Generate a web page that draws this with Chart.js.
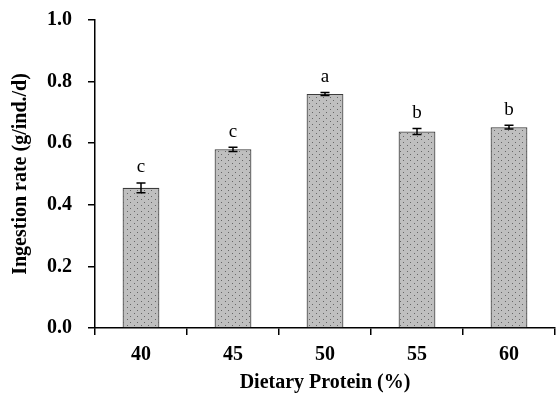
<!DOCTYPE html>
<html>
<head>
<meta charset="utf-8">
<script src="https://cdn.jsdelivr.net/npm/chart.js@4.4.0/dist/chart.umd.min.js"></script>
<style>
  html, body { margin: 0; padding: 0; background: #fff; }
  #wrap { width: 560px; height: 405px; }
</style>
</head>
<body>
<div id="wrap"><canvas id="c" width="560" height="405"></canvas></div>
<script>
// data
const categories = ['40', '45', '50', '55', '60'];
const ingestion = [0.455, 0.580, 0.760, 0.638, 0.652];
const errors = [0.016, 0.007, 0.005, 0.010, 0.006];
const letters = ['c', 'c', 'a', 'b', 'b'];
const yTicks = [0.0, 0.2, 0.4, 0.6, 0.8, 1.0];

const serif = '"Liberation Serif", "Times New Roman", serif';

// dotted grey fill like the original
function dotPattern() {
  const p = document.createElement('canvas');
  p.width = 7; p.height = 6;
  const g = p.getContext('2d');
  g.fillStyle = '#bfbfbf';
  g.fillRect(0, 0, 7, 6);
  g.fillStyle = '#666';
  g.fillRect(1, 1, 1, 1);
  g.fillRect(4, 4, 1, 1);
  return g.createPattern(p, 'repeat');
}
const ctx = document.getElementById('c').getContext('2d');

// error bars + significance letters
const extras = {
  id: 'extras',
  afterDatasetsDraw(chart) {
    const c = chart.ctx;
    const x = chart.scales.x, y = chart.scales.y;
    c.save();
    c.strokeStyle = '#000';
    c.lineWidth = 1.5;
    ingestion.forEach((v, i) => {
      const cx = x.getPixelForValue(i);
      const top = y.getPixelForValue(v + errors[i]);
      const bot = y.getPixelForValue(v - errors[i]);
      c.beginPath();
      c.moveTo(cx, top); c.lineTo(cx, bot);
      c.moveTo(cx - 4.5, top); c.lineTo(cx + 4.5, top);
      c.moveTo(cx - 4.5, bot); c.lineTo(cx + 4.5, bot);
      c.stroke();
      c.fillStyle = '#000';
      c.font = '19px ' + serif;
      c.textAlign = 'center';
      c.textBaseline = 'bottom';
      c.fillText(letters[i], cx, top - 6);
    });
    c.restore();
  }
};

new Chart(ctx, {
  type: 'bar',
  data: {
    labels: categories,
    datasets: [{
      data: ingestion,
      backgroundColor: dotPattern(),
      borderColor: '#3c3c3c',
      borderWidth: 1.2,
      borderSkipped: 'bottom',
      barPercentage: 0.4,
      categoryPercentage: 1.0
    }]
  },
  options: {
    responsive: false,
    animation: false,
    layout: { padding: { top: 20, right: 5, left: 0, bottom: 0 } },
    plugins: { legend: { display: false }, tooltip: { enabled: false } },
    scales: {
      x: {
        offset: true,
        grid: { offset: true, drawOnChartArea: false, drawTicks: true, tickLength: 7, color: '#000', lineWidth: 1.5 },
        border: { color: '#000', width: 1.5 },
        ticks: { color: '#000', font: { family: serif, size: 20, weight: 'bold' }, padding: 8 },
        title: { display: true, text: 'Dietary Protein (%)', color: '#000', font: { family: serif, size: 20, weight: 'bold' }, padding: { top: 4, bottom: 10 } },
        afterFit(s) { s.height = 77; s.paddingLeft = 0; s.paddingRight = 0; }
      },
      y: {
        min: 0, max: 1.0,
        afterBuildTicks(s) { s.ticks = yTicks.map(v => ({ value: v })); },
        grid: { drawOnChartArea: false, drawTicks: true, tickLength: 7, color: '#000', lineWidth: 1.5 },
        border: { color: '#000', width: 1.5 },
        ticks: { color: '#000', font: { family: serif, size: 20, weight: 'bold' }, padding: 16, callback: v => v.toFixed(1) },
        title: { display: true, text: 'Ingestion rate (g/ind./d)', color: '#000', font: { family: serif, size: 20, weight: 'bold' }, padding: { top: 9, bottom: 0 } },
        afterFit(s) { s.width = 95; s.paddingTop = 0; s.paddingBottom = 0; }
      }
    }
  },
  plugins: [extras]
});
</script>
</body>
</html>
